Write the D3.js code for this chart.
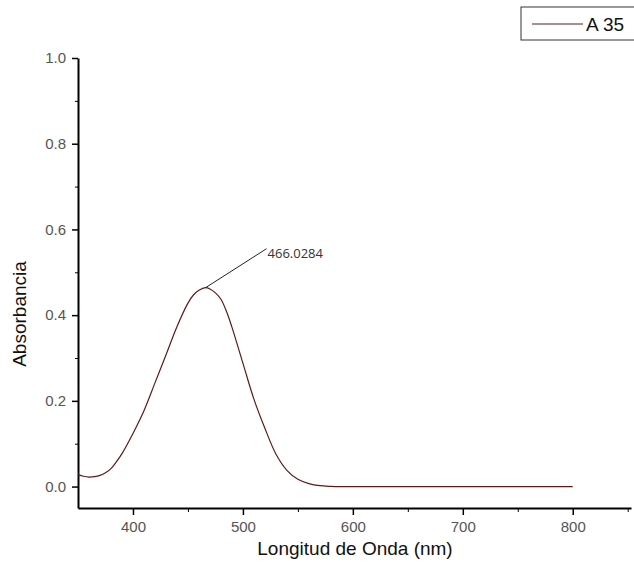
<!DOCTYPE html>
<html>
<head>
<meta charset="utf-8">
<script src="https://cdn.jsdelivr.net/npm/d3@7"></script>
<style>
  body { margin: 0; background: #fff; }
  svg { display: block; }
  .axis path, .axis line { stroke: #000; }
  .axis text { fill: #555; font-family: "Liberation Sans", Arial, sans-serif; font-size: 15px; }
</style>
</head>
<body>
<div id="chart"></div>
<script>
// wavelength (nm) and absorbance
var wavelength = [350, 355, 360, 365, 370, 375, 380, 385, 390, 400, 410, 420, 430, 440, 450, 455, 460, 466, 470, 475, 480, 485, 490, 500, 510, 520, 530, 540, 550, 560, 570, 580, 590, 600, 650, 700, 750, 800];
var absorbance = [0.028, 0.024, 0.022, 0.023, 0.026, 0.032, 0.042, 0.058, 0.077, 0.124, 0.177, 0.242, 0.307, 0.373, 0.428, 0.447, 0.458, 0.464, 0.461, 0.452, 0.437, 0.409, 0.372, 0.288, 0.204, 0.136, 0.076, 0.038, 0.017, 0.007, 0.002, 0.0005, 0.0, 0.0, 0.0, 0.0, 0.0, 0.0];
var xTicks = [400, 500, 600, 700, 800];
var yTicks = [0.0, 0.2, 0.4, 0.6, 0.8, 1.0];
var peakLabel = "466.0284";
var peakX = 466;
var seriesName = "A 35";

(function() {
  var width = 634, height = 575;
  var margin = { top: 58, left: 78, right: 3, bottom: 67 };

  var svg = d3.select("#chart")
    .append("svg")
    .attr("width", width)
    .attr("height", height);

  var xPositionScale = d3.scaleLinear().domain([350, 853]).range([margin.left, width - margin.right]);
  var yPositionScale = d3.scaleLinear().domain([-0.05, 1.0]).range([height - margin.bottom, margin.top]);

  var data = wavelength.map(function(w, i) { return { x: w, y: absorbance[i] }; });

  // minor ticks first
  svg.append("g")
    .attr("class", "axis")
    .attr("transform", "translate(0," + (height - margin.bottom) + ")")
    .call(d3.axisBottom(xPositionScale).tickValues([450, 550, 650, 750, 850]).tickSize(4).tickFormat(""))
    .select(".domain").remove();

  svg.append("g")
    .attr("class", "axis")
    .attr("transform", "translate(" + margin.left + ",0)")
    .call(d3.axisLeft(yPositionScale).tickValues([0.1, 0.3, 0.5, 0.7, 0.9]).tickSize(3).tickFormat(""))
    .select(".domain").remove();

  var xAxis = svg.append("g")
    .attr("class", "axis x-axis")
    .attr("transform", "translate(0," + (height - margin.bottom) + ")")
    .call(d3.axisBottom(xPositionScale).tickValues(xTicks).tickSize(7).tickSizeOuter(0).tickPadding(6).tickFormat(d3.format("d")));
  xAxis.select(".domain").attr("stroke-width", 2);
  xAxis.selectAll(".tick line").attr("stroke-width", 1.5);

  var yAxis = svg.append("g")
    .attr("class", "axis y-axis")
    .attr("transform", "translate(" + margin.left + ",0)")
    .call(d3.axisLeft(yPositionScale).tickValues(yTicks).tickSize(6).tickSizeOuter(0).tickPadding(6).tickFormat(d3.format(".1f")));
  yAxis.select(".domain").attr("stroke-width", 2);
  yAxis.selectAll(".tick line").attr("stroke-width", 1.5);

  // spectrum
  var line = d3.line()
    .x(function(d) { return xPositionScale(d.x); })
    .y(function(d) { return yPositionScale(d.y); })
    .curve(d3.curveCatmullRom);

  svg.append("path")
    .datum(data)
    .attr("fill", "none")
    .attr("stroke", "#5e1a1a")
    .attr("stroke-width", 1.2)
    .attr("d", line);

  // peak annotation
  var peakY = absorbance[wavelength.indexOf(peakX)];
  var px = xPositionScale(peakX), py = yPositionScale(peakY);
  svg.append("line")
    .attr("x1", px).attr("y1", py)
    .attr("x2", px + 61).attr("y2", py - 39)
    .attr("stroke", "#222")
    .attr("stroke-width", 1);
  svg.append("text")
    .attr("x", px + 62)
    .attr("y", py - 30)
    .style("font-family", "'Open Sans', sans-serif")
    .style("font-size", "13px")
    .style("fill", "#333")
    .text(peakLabel);

  // axis titles
  svg.append("text")
    .attr("transform", "translate(26,314) rotate(-90)")
    .attr("text-anchor", "middle")
    .style("font-family", "'Liberation Sans', Arial, sans-serif")
    .style("font-size", "19px")
    .style("fill", "#111")
    .text("Absorbancia");

  svg.append("text")
    .attr("x", 355)
    .attr("y", 555)
    .attr("text-anchor", "middle")
    .style("font-family", "'Liberation Sans', Arial, sans-serif")
    .style("font-size", "19px")
    .style("fill", "#111")
    .text("Longitud de Onda (nm)");

  // legend (runs past the right edge)
  var legend = svg.append("g").attr("transform", "translate(521,7)");
  legend.append("rect")
    .attr("width", 140).attr("height", 33)
    .attr("fill", "#fff")
    .attr("stroke", "#333")
    .attr("stroke-width", 1);
  legend.append("line")
    .attr("x1", 11).attr("x2", 62)
    .attr("y1", 17).attr("y2", 17)
    .attr("stroke", "#5e1a1a")
    .attr("stroke-width", 1.2);
  legend.append("text")
    .attr("x", 65).attr("y", 24)
    .style("font-family", "'Liberation Sans', Arial, sans-serif")
    .style("font-size", "19px")
    .style("fill", "#111")
    .text(seriesName);
})();
</script>
</body>
</html>
